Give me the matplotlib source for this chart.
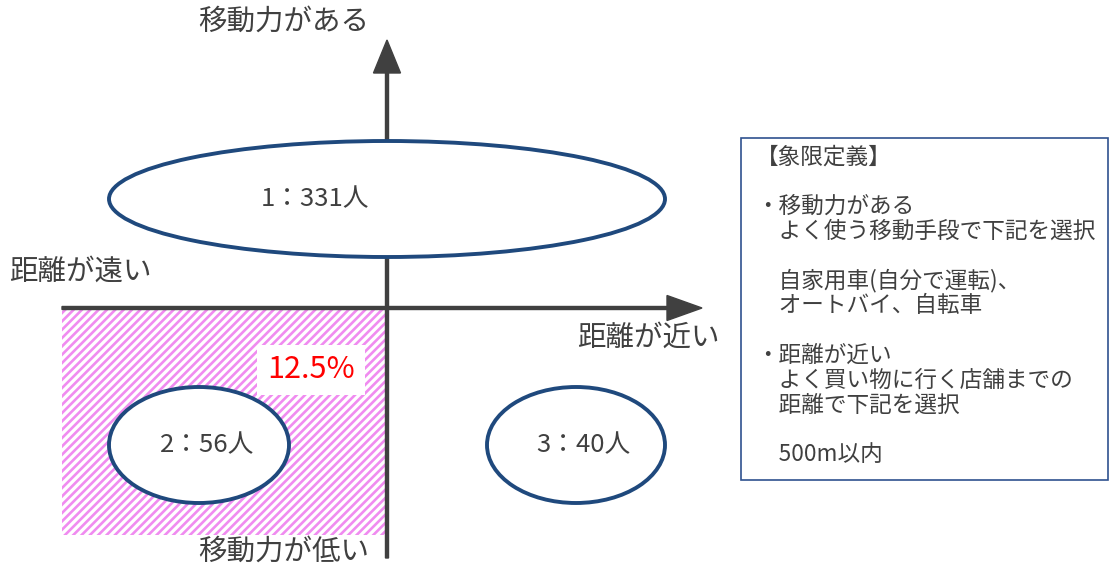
import matplotlib
matplotlib.use('Agg')
import matplotlib.pyplot as plt
from matplotlib.patches import Ellipse, Rectangle, FancyArrow

plt.rcParams['font.family'] = ['Noto Sans CJK JP', 'DejaVu Sans']
plt.rcParams['hatch.linewidth'] = 1.9

# quadrant data
quadrant_ids = [1, 2, 3]
quadrant_counts = [331, 56, 40]
highlight_share = '12.5%'

axis_labels = ['移動力がある', '移動力が低い', '距離が遠い', '距離が近い']

definition_lines = [
    '【象限定義】',
    '',
    '・移動力がある',
    '　よく使う移動手段で下記を選択',
    '',
    '　自家用車(自分で運転)、',
    '　オートバイ、自転車',
    '',
    '・距離が近い',
    '　よく買い物に行く店舗までの',
    '　距離で下記を選択',
    '',
    '　500m以内',
]

TEXT = '#404040'
NAVY = '#1f497d'
PINK = '#f08cf0'

fig = plt.figure(figsize=(11.1, 5.67), dpi=100)
ax = fig.add_axes([0, 0, 1, 1])
ax.set_xlim(0, 1110)
ax.set_ylim(567, 0)
ax.axis('off')

ox, oy = 387, 308  # origin of the quadrant cross

# hatched low-mobility / far quadrant
ax.add_patch(Rectangle((62, oy + 2), ox - 62, 225, facecolor='white',
                       edgecolor=PINK, hatch='////', linewidth=0, zorder=1))
# axes with arrow heads
ax.add_patch(FancyArrow(ox, 558, 0, 40 - 558, width=3, head_width=27, head_length=33,
                        length_includes_head=True, color=TEXT, zorder=3))
ax.add_patch(FancyArrow(62, oy, 702 - 62, 0, width=3, head_width=25, head_length=35,
                        length_includes_head=True, color=TEXT, zorder=3))

# quadrant ellipses
centers = [(387, 199), (199, 445), (576, 445)]
sizes = [(556, 116), (180, 116), (178, 116)]
label_x = [315, 207, 583]
for qid, cnt, (cx, cy), (w, h), lx in zip(quadrant_ids, quadrant_counts, centers, sizes, label_x):
    ax.add_patch(Ellipse((cx, cy), w, h, facecolor='white', edgecolor=NAVY,
                         linewidth=2.8, zorder=4))
    ax.text(lx, cy, f'{qid}：{cnt}人', ha='center', va='center', fontsize=18.5,
            color=TEXT, zorder=5)

# share label
ax.text(311, 370, highlight_share, ha='center', va='center', fontsize=22, color='#ff0000',
        zorder=5, bbox=dict(facecolor='white', edgecolor='none', pad=7))

# axis labels
ax.text(284, 22, axis_labels[0], ha='center', va='center', fontsize=20.5, color=TEXT)
ax.text(284, 552, axis_labels[1], ha='center', va='center', fontsize=20.5, color=TEXT)
ax.text(9, 272, axis_labels[2], ha='left', va='center', fontsize=20.5, color=TEXT)
ax.text(577, 338, axis_labels[3], ha='left', va='center', fontsize=20.5, color=TEXT)

# definition box
ax.add_patch(Rectangle((741, 138), 367, 342, facecolor='white', edgecolor='#2f528f',
                       linewidth=1.2, zorder=2))
for i, line in enumerate(definition_lines):
    if line:
        ax.text(756, 157 + i * 24.8, line, ha='left', va='center', fontsize=16.3,
                color=TEXT, zorder=3)

fig.savefig('out.png', dpi=100)
